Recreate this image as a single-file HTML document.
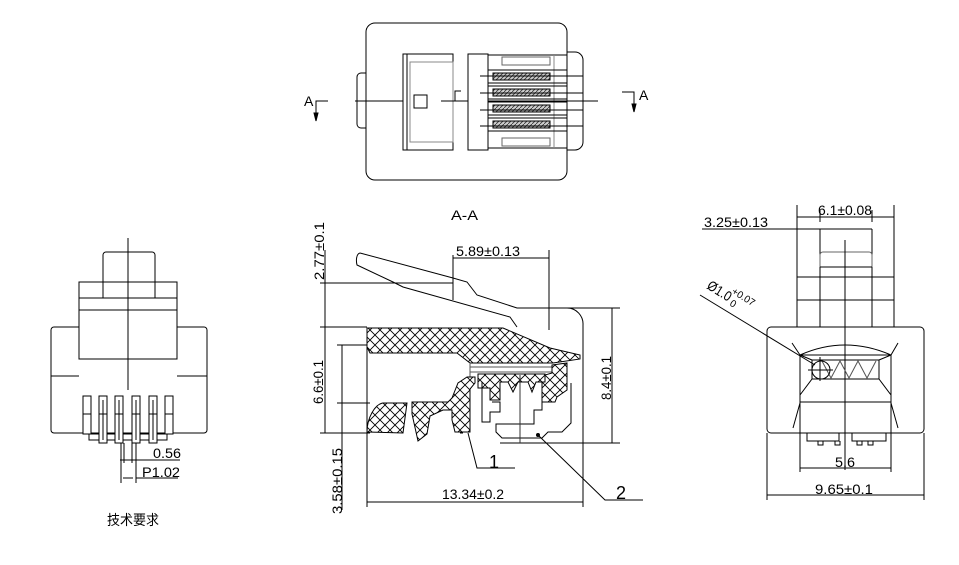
<!DOCTYPE html>
<html><head><meta charset="utf-8"><style>
html,body{margin:0;padding:0;background:#fff;}
svg{display:block}
text{font-family:"Liberation Sans","Noto Sans CJK SC",sans-serif;fill:#000}
</style></head><body>
<svg width="959" height="565" viewBox="0 0 959 565" xmlns="http://www.w3.org/2000/svg">
<defs>
<pattern id="h" width="10" height="10" patternUnits="userSpaceOnUse">
<rect width="10" height="10" fill="#fff"/>
<path d="M0 0L10 10M10 0L0 10" stroke="#000" stroke-width="0.9"/>
</pattern>
<pattern id="d" width="4" height="4" patternUnits="userSpaceOnUse">
<rect width="4" height="4" fill="#ccc"/><path d="M0 4L4 0" stroke="#333" stroke-width="0.8"/>
</pattern>
</defs>
<g fill="none" stroke="#000" stroke-width="1">
<!-- TOP VIEW -->
<rect x="366" y="23" width="201" height="157" rx="9"/>
<path d="M366 73h-5a4 4 0 0 0 -4 4v47a4 4 0 0 0 4 4h5"/>
<path d="M567 52h8a8 8 0 0 1 8 8v82a8 8 0 0 1 -8 8h-8"/>
<rect x="403" y="54" width="50" height="96"/>
<line x1="407" y1="54" x2="407" y2="150"/>
<rect x="410" y="62" width="43" height="80" stroke="#888"/>
<rect x="414" y="95" width="13" height="13"/>
<rect x="468" y="54" width="20" height="96"/>
<line x1="488" y1="55" x2="567" y2="55"/><line x1="488" y1="148" x2="567" y2="148"/>
<rect x="502" y="57" width="48" height="8" stroke="#666"/>
<rect x="502" y="138" width="48" height="8" stroke="#666"/>
<line x1="554" y1="55" x2="554" y2="148" stroke="#888"/>
<g fill="url(#d)" stroke="#000">
<rect x="493" y="73" width="57" height="7"/><rect x="493" y="89" width="57" height="7"/>
<rect x="493" y="105" width="57" height="7"/><rect x="493" y="121" width="57" height="7"/>
</g>
<path d="M488 70h79M488 83h79M488 86h79M488 99h79M488 102h79M488 115h79M488 118h79M488 131h79"/>
<path d="M480 76h103M480 93h103M480 110h103M480 126h103"/>
<path d="M355 101h48M441 101h27M488 101h110" />
<path d="M455 101v-10h6"/>
<path d="M328 101h-12v20M622 92h12v20"/>
<path d="M316 121l-2-8h4z M634 112l-2-8h4z" fill="#000"/>
<!-- LEFT VIEW -->
<line x1="128" y1="238" x2="128" y2="390"/>
<path d="M103 298v-43a3 3 0 0 1 3-3h46a3 3 0 0 1 3 3v43"/>
<rect x="79" y="282" width="98" height="28"/>
<line x1="79" y1="298" x2="177" y2="298"/>
<rect x="79" y="310" width="98" height="49"/>
<path d="M79 327h-25a3 3 0 0 0 -3 3v100a3 3 0 0 0 3 3h150a3 3 0 0 0 3-3v-100a3 3 0 0 0 -3-3h-27"/>
<path d="M51 376h28M177 376h30"/>
<rect x="89" y="434" width="78" height="6"/>
<g fill="#fff">
<rect x="83" y="396" width="8" height="38"/>
<rect x="99" y="396" width="8" height="47"/>
<rect x="115" y="396" width="8" height="47"/>
<rect x="132" y="396" width="8" height="47"/>
<rect x="149" y="396" width="8" height="47"/>
<rect x="165" y="396" width="8" height="38"/>
</g>
<path d="M83 414h8M99 414h8M115 414h8M132 414h8M149 414h8M165 414h8M103 400v40M119 400v40M136 400v40M153 400v40"/>
<path d="M121 443v40M136 443v40M124 443v20M132 443v20M120 460h60M136 478h42M122 460h5M123 478h10"/>
<!-- SECTION A-A -->
<path d="M360 253c-4 1-4 8-3 12l36 17 10 5 107 30 7 10"/>
<path d="M360 253l93 25 14 4 10 13 40 13h50a16 16 0 0 1 16 17v182"/>
<path d="M367 328h136M367 328v178"/>
<path d="M320 283h133M320 327h47M337 345h33M337 403h33M320 433h50M460 433h3"/>
<path d="M325 250v183M342 345v165M453 255v45M549 250v80M453 258h96M567 308h53M500 443h120M612 308v135M367 502h216M367 495v12M583 495v12"/>
<path fill="url(#h)" d="M367 328h136l47 20 30 7v4l-27 4h-83l-13-10h-87l-3-6z"/>
<path d="M470 363v40M470 367h82M470 372h82" stroke="#555"/>
<path fill="url(#h)" d="M552 365l15-2v27l-10 7-2 5h-13v-20l3-7 7-2z"/>
<path fill="url(#h)" d="M478 374h67v8h-9l-4 10-4-10h-10l-5 10-5-10h-8v18h-10v-12h-12z"/>
<path fill="url(#h)" d="M367 432c0-14 8-28 16-29h24l-4 30z"/>
<path fill="url(#h)" d="M412 402h36l4-4 6-15 9-6h8v6l-5 6v43h-15l-3-12v-10h-9l-13 6-3 18-9 7-6-27z"/>
<path d="M482 382v40h8v-10h10v-10h-8M542 402v8h-8v14h-38v8l6 6h40l6-6h14l9-9v-40"/>
<path d="M520 375v68" stroke="#333"/>
<path d="M468 433l9 35h38M538 435l67 65h38"/>
<circle cx="538" cy="435" r="1.5" fill="#000"/>
<!-- RIGHT VIEW -->
<path d="M797 205v122M894 205v122M797 217h97M820 222v-12M872 222v-12M702 229h118M820 229h52M820 229v98M872 229v98"/>
<path d="M820 267v-12a3 3 0 0 1 3-3h46a3 3 0 0 1 3 3v12" stroke="#666"/>
<path d="M820 267h52M820 277h52M797 277h23M872 277h22M797 300h97"/>
<line x1="845" y1="240" x2="845" y2="470"/>
<rect x="767" y="327" width="157" height="106" rx="4"/>
<path d="M800 355q45-20 91 0M800 355h91M800 355v117M891 355v117M800 402h91M767 433v67M924 433v67M800 468h91M767 495h157"/>
<path d="M800 355l12 5M891 355l-12 5M800 395l12-16M891 395l-12-16M812 360h67M812 379h67M812 360v19M879 360v19"/>
<path d="M822 361l9 17 9-17 9 17 9-17 9 17 9-17" stroke="#555"/>
<circle cx="821" cy="370" r="9"/><path d="M808 370h25M820 357v24"/>
<path d="M792 343l8 12M898 343l-7 12M800 403l-7 25M891 403l7 25"/>
<path d="M700 295l115 70"/>
<path d="M807 433v8h32v-8M852 433v8h34v-8M818 441v4h5v-4M835 441v4h5v-4M857 441v4h5v-4M868 441v4h5v-4"/>
</g>
<!-- TEXT -->
<g font-size="14">
<text x="304" y="106">A</text>
<text x="639" y="100">A</text>
<text x="451" y="220" textLength="27" lengthAdjust="spacingAndGlyphs">A-A</text>
<text x="456" y="256" textLength="64" lengthAdjust="spacingAndGlyphs">5.89±0.13</text>
<text transform="translate(324,280) rotate(-90)" textLength="58" lengthAdjust="spacingAndGlyphs">2.77±0.1</text>
<text transform="translate(323,404) rotate(-90)" textLength="44" lengthAdjust="spacingAndGlyphs">6.6±0.1</text>
<text transform="translate(342,514) rotate(-90)" textLength="66" lengthAdjust="spacingAndGlyphs">3.58±0.15</text>
<text transform="translate(611,400) rotate(-90)" textLength="44" lengthAdjust="spacingAndGlyphs">8.4±0.1</text>
<text x="442" y="499" textLength="62" lengthAdjust="spacingAndGlyphs">13.34±0.2</text>
<text x="489" y="468" font-size="18">1</text>
<text x="616" y="499" font-size="18">2</text>
<text x="153" y="458" textLength="28" lengthAdjust="spacingAndGlyphs">0.56</text>
<text x="142" y="477" textLength="38" lengthAdjust="spacingAndGlyphs">P1.02</text>
<text x="107" y="525" font-size="14" textLength="52" lengthAdjust="spacingAndGlyphs">技术要求</text>
<text x="818" y="215" textLength="54" lengthAdjust="spacingAndGlyphs">6.1±0.08</text>
<text x="704" y="227" textLength="64" lengthAdjust="spacingAndGlyphs">3.25±0.13</text>
<text transform="translate(706,288) rotate(32)" textLength="26" lengthAdjust="spacingAndGlyphs">Ø1.0</text>
<text transform="translate(731,293) rotate(32)" font-size="10">+0.07</text>
<text transform="translate(729,305) rotate(32)" font-size="10">0</text>
<text x="835" y="467" textLength="20" lengthAdjust="spacingAndGlyphs">5.6</text>
<text x="815" y="494" textLength="58" lengthAdjust="spacingAndGlyphs">9.65±0.1</text>
</g>
</svg>
</body></html>
